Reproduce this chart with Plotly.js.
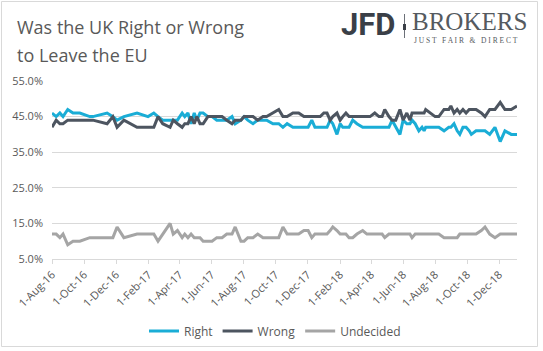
<!DOCTYPE html>
<html><head><meta charset="utf-8">
<script src="https://cdn.plot.ly/plotly-3.0.1.min.js"></script>
<style>html,body{margin:0;padding:0;background:#fff}#chart{width:543px;height:351px}</style>
</head><body><div id="chart"></div>
<script>
const dates = ['2016-08-01','2016-08-09','2016-08-16','2016-08-22','2016-08-31','2016-09-10','2016-09-23','2016-10-12','2016-10-18','2016-11-14',
'2016-11-25','2016-12-03','2016-12-16','2017-01-10','2017-01-31','2017-02-11','2017-02-19','2017-02-28','2017-03-14','2017-03-20',
'2017-03-28','2017-04-06','2017-04-11','2017-04-17','2017-04-23','2017-04-29','2017-05-04','2017-05-10','2017-05-16','2017-05-25',
'2017-06-02','2017-06-11','2017-06-21','2017-06-30','2017-07-10','2017-07-16','2017-07-27','2017-08-02','2017-08-09','2017-08-19',
'2017-08-28','2017-09-07','2017-09-14','2017-09-26','2017-10-07','2017-10-15','2017-10-23','2017-11-03','2017-11-14','2017-11-24',
'2017-12-02','2017-12-09','2017-12-15','2017-12-25','2018-01-01','2018-01-07','2018-01-13','2018-01-18','2018-01-26','2018-02-01',
'2018-02-06','2018-02-12','2018-02-18','2018-02-25','2018-03-05','2018-03-16','2018-03-24','2018-03-30','2018-04-08','2018-04-16',
'2018-04-22','2018-04-27','2018-05-05','2018-05-11','2018-05-18','2018-05-26','2018-06-01','2018-06-08','2018-06-14','2018-06-18',
'2018-06-24','2018-07-01','2018-07-07','2018-07-11','2018-07-14','2018-07-24','2018-08-01','2018-08-08','2018-08-18','2018-08-27',
'2018-08-31','2018-09-06','2018-09-12','2018-09-17','2018-09-23','2018-09-29','2018-10-05','2018-10-09','2018-10-18','2018-10-28',
'2018-11-04','2018-11-13','2018-11-23','2018-12-03','2018-12-12','2018-12-24','2019-01-04'];

const rightVals = [46,45,46,45,47,46,46,45,45,46,
45,44,45,46,45,46,45,44,44,44,
44,46,45,46,43,46,44,46,46,45,
45,44,44,44,45,43,44,45,44,43,
44,44,44,43,43,42,43,42,42,42,
42,44,42,42,42,42,44,43,40,43,
42,42,42,44,43,42,42,42,42,42,
42,42,42,44,42,40,44,43,43,44,
43,41,42,41,42,42,42,42,41,42,
42,43,41,40,42,42,41,40,41,41,
41,40,42,38,41,40,40];

const wrongVals = [42,44,43,43,44,44,44,44,44,43,
45,42,44,42,42,42,45,43,42,44,
43,42,43,43,45,43,45,43,43,45,
45,45,45,44,43,44,44,45,45,45,
44,45,45,46,47,45,45,46,46,45,
45,45,45,45,46,46,44,45,46,44,
45,46,45,45,45,45,45,45,46,45,
45,47,45,44,44,47,44,46,44,46,
46,46,46,46,47,46,45,45,47,47,
48,46,47,46,47,46,47,47,47,46,
45,47,47,49,47,47,48];

const undecidedVals = [12,12,11,12,9,10,10,11,11,11,
11,14,11,12,12,12,10,12,15,12,
13,11,12,11,12,11,11,11,10,10,
10,11,11,12,12,14,10,10,11,11,
12,11,11,11,11,14,12,12,12,13,
13,11,12,12,12,12,13,14,13,12,
12,12,11,11,12,13,12,12,12,12,
12,11,12,12,12,12,12,12,12,11,
12,12,12,12,12,12,12,12,11,11,
11,11,11,12,12,12,12,12,12,13,
14,12,11,12,12,12,12];

const tickDates = ['2016-08-01','2016-10-01','2016-12-01','2017-02-01','2017-04-01','2017-06-01','2017-08-01',
'2017-10-01','2017-12-01','2018-02-01','2018-04-01','2018-06-01','2018-08-01','2018-10-01','2018-12-01'];
const tickLabels = ['1-Aug-16','1-Oct-16','1-Dec-16','1-Feb-17','1-Apr-17','1-Jun-17','1-Aug-17',
'1-Oct-17','1-Dec-17','1-Feb-18','1-Apr-18','1-Jun-18','1-Aug-18','1-Oct-18','1-Dec-18'];
const seriesNames = ['Right','Wrong','Undecided'];
const seriesColors = ['#1AADD6','#4D5560','#A5A5A5'];

// layout geometry (pixels)
const L = 52, R = 26, T = 81, B = 92, WID = 543, HEI = 351;
const pw = WID - L - R, ph = HEI - T - B;
const px = x => (x - L) / pw;
const py = y => (HEI - B - y) / ph;

const series = [rightVals, wrongVals, undecidedVals];
const traces = series.map((vals, i) => ({
  x: dates, y: vals, type: 'scatter', mode: 'lines', name: seriesNames[i],
  line: {color: seriesColors[i], width: 3, shape: 'linear'}
}));

const gray = '#595959';
const layout = {
  width: WID, height: HEI,
  margin: {l: L, r: R, t: T, b: B, pad: 0, autoexpand: false},
  paper_bgcolor: '#ffffff', plot_bgcolor: '#ffffff',
  font: {family: 'Open Sans, sans-serif', size: 11, color: gray},
  showlegend: true,
  legend: {orientation: 'h', x: px(275), xanchor: 'center', y: py(331), yanchor: 'middle',
    font: {size: 12, color: gray}, itemwidth: 30, bgcolor: 'rgba(0,0,0,0)'},
  xaxis: {type: 'date', range: ['2016-08-01', '2019-01-04'], tickmode: 'array',
    tickvals: tickDates, ticktext: tickLabels, tickangle: -45, automargin: false,
    showgrid: false, zeroline: false, showline: true, linecolor: '#D9D9D9', linewidth: 1,
    ticks: 'outside', ticklen: 4, tickcolor: '#D9D9D9', tickfont: {size: 11, color: gray}},
  yaxis: {range: [5, 55], tickmode: 'linear', tick0: 5, dtick: 10, tickformat: '.1f', ticksuffix: '%', automargin: false,
    showgrid: true, gridcolor: '#D9D9D9', gridwidth: 1, zeroline: false, showline: false,
    ticks: '', tickfont: {size: 11, color: gray}, ticklabelstandoff: 8},
  annotations: [
    {text: 'Was the UK Right or Wrong', xref: 'paper', yref: 'paper', x: px(15), y: py(27), xanchor: 'left', yanchor: 'middle',
      showarrow: false, font: {size: 18, color: gray, family: 'Open Sans, sans-serif'}},
    {text: 'to Leave the EU', xref: 'paper', yref: 'paper', x: px(15), y: py(55), xanchor: 'left', yanchor: 'middle',
      showarrow: false, font: {size: 18, color: gray, family: 'Open Sans, sans-serif'}},
    {text: '<b>JFD</b>', xref: 'paper', yref: 'paper', x: px(339), y: py(24), xanchor: 'left', yanchor: 'middle',
      showarrow: false, font: {size: 31, color: '#3A3F47', family: 'Roboto, sans-serif'}},
    {text: 'BROKERS', xref: 'paper', yref: 'paper', x: px(410), y: py(21), xanchor: 'left', yanchor: 'middle',
      showarrow: false, font: {size: 25, color: '#555A60', family: 'Liberation Serif, serif'}},
    {text: 'J U S T   F A I R   &amp;   D I R E C T', xref: 'paper', yref: 'paper', x: px(412), y: py(40), xanchor: 'left', yanchor: 'middle',
      showarrow: false, font: {size: 7.5, color: '#555A60', family: 'Liberation Serif, serif'}}
  ],
  shapes: [
    {type: 'rect', xref: 'paper', yref: 'paper', x0: px(1.5), x1: px(537.5), y0: py(346.5), y1: py(1.5),
      line: {color: '#D9D9D9', width: 1}, fillcolor: 'rgba(0,0,0,0)', layer: 'below'},
    {type: 'line', xref: 'paper', yref: 'paper', x0: px(404.5), x1: px(404.5), y0: py(38), y1: py(14),
      line: {color: '#6B7078', width: 1}},
    {type: 'line', xref: 'paper', yref: 'paper', x0: px(404.5), x1: px(404.5), y0: py(30), y1: py(24),
      line: {color: '#3A3F47', width: 3}}
  ]
};

Plotly.newPlot('chart', traces, layout, {staticPlot: true, displayModeBar: false});
</script>
</body></html>
